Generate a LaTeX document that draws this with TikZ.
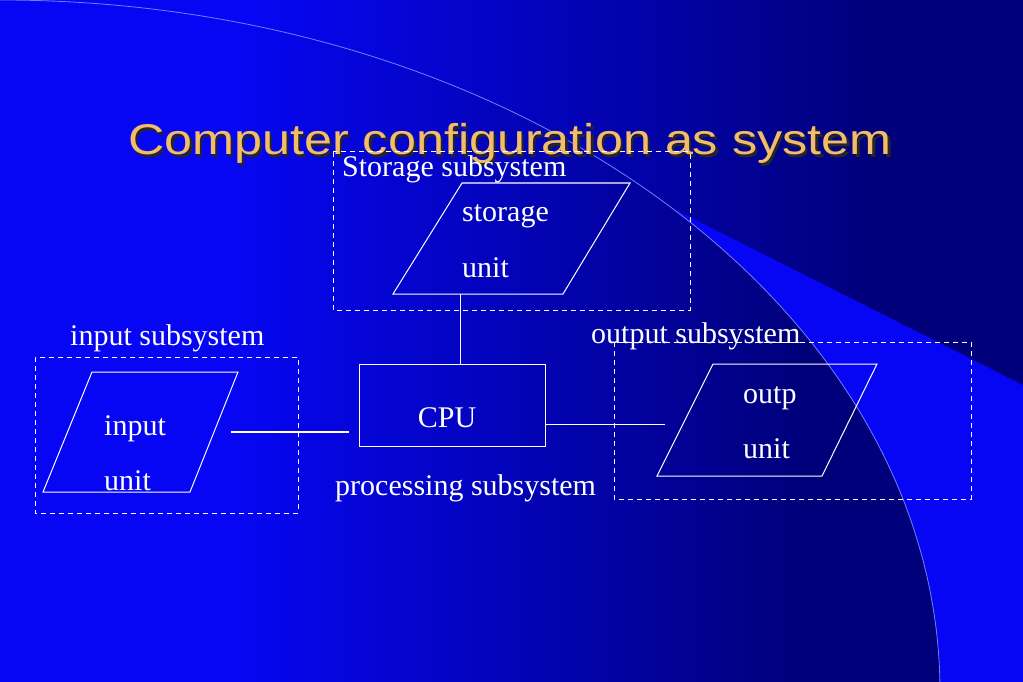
\documentclass[tikz,border=0pt]{standalone}
\usepackage{fontspec}
\setmainfont{Liberation Serif}
\newfontfamily\titlefont{Liberation Sans}

\definecolor{bgbright}{RGB}{6,6,245}
\definecolor{bgnavy}{RGB}{0,0,122}
\definecolor{arcblue}{RGB}{110,130,255}
\definecolor{titlegold}{RGB}{242,188,104}
\pgfdeclarehorizontalshading{slideshade}{100bp}{color(0bp)=(bgbright); color(37bp)=(bgbright); color(68bp)=(bgnavy); color(100bp)=(bgnavy)}

\begin{document}
\begin{tikzpicture}[x=1pt, y=-1pt,
    txt/.style={text=white, font=\fontsize{30}{36}\selectfont, inner sep=0pt, anchor=base west},
    titletxt/.style={inner sep=0pt, anchor=base west, font=\titlefont\fontsize{43}{50}\selectfont},
    subbox/.style={draw=white, line width=1pt, dash pattern=on 5pt off 4pt},
    unitbox/.style={draw=white, line width=1pt},
    link/.style={draw=white, line width=1pt}]

  % 背景
  \useasboundingbox (0,0) rectangle (1023,682);
  \shade[shading=slideshade] (0,0) rectangle (1023,682);
  \fill[bgbright] (400,71) -- (1023,385) -- (1023,682) -- (400,682) -- cycle;
  \begin{scope}
    \clip (0,692) ellipse [x radius=940, y radius=692];
    \shade[shading=slideshade] (0,0) rectangle (940,682);
  \end{scope}
  \draw[arcblue, line width=0.8pt] (0,692) ellipse [x radius=940, y radius=692];

  % 标题(带阴影)
  \node[titletxt, text=black!85] at (130.5,157.5) {\scalebox{1.17}[1]{Computer configuration as system}};
  \node[titletxt, text=titlegold] (title) at (128,155) {\scalebox{1.17}[1]{Computer configuration as system}};

  % 存储子系统
  \draw[subbox] (333,152) rectangle (690,310);
  \node[txt] (stlabel) at (342,176) {Storage subsystem};
  \draw[unitbox] (462,183) -- (630,183) -- (563,294) -- (393,294) -- cycle;
  \node[txt] (st1) at (462,222) {storage};
  \node[txt] (st2) at (462,277) {unit};
  \coordinate (stb) at (460,294);

  % 输入子系统
  \draw[subbox] (35,357) rectangle (298,513);
  \node[txt] (inlabel) at (70,345) {input subsystem};
  \draw[unitbox] (92,372) -- (238,372) -- (190,492) -- (43,492) -- cycle;
  \node[txt] (in1) at (104,435) {input};
  \node[txt] (in2) at (104,490) {unit};
  \coordinate (ina) at (231,432);
  \coordinate (inb) at (349,432);
  \draw[link, line width=2.2pt] (ina) -- (inb);

  % 处理子系统
  \node[unitbox, inner sep=0pt, minimum width=186pt, minimum height=82pt,
        text=white, font=\fontsize{30}{36}\selectfont, text height=44pt, text depth=0pt]
        (cpu) at (452,405) {CPU\hspace*{10pt}};
  \node[txt] (prlabel) at (335,495) {processing subsystem};
  \draw[link] (stb) -- (stb |- cpu.north);

  % 输出子系统
  \draw[subbox] (614,342) rectangle (971,499);
  \node[txt] (outlabel) at (591,343) {output subsystem};
  \draw[unitbox] (713,364) -- (877,364) -- (822,476) -- (657,476) -- cycle;
  \node[txt] (out1) at (743,403) {outp};
  \node[txt] (out2) at (743,458) {unit};
  \coordinate (outa) at (665,424);
  \draw[link] (cpu.east |- outa) -- (outa);
\end{tikzpicture}
\end{document}
